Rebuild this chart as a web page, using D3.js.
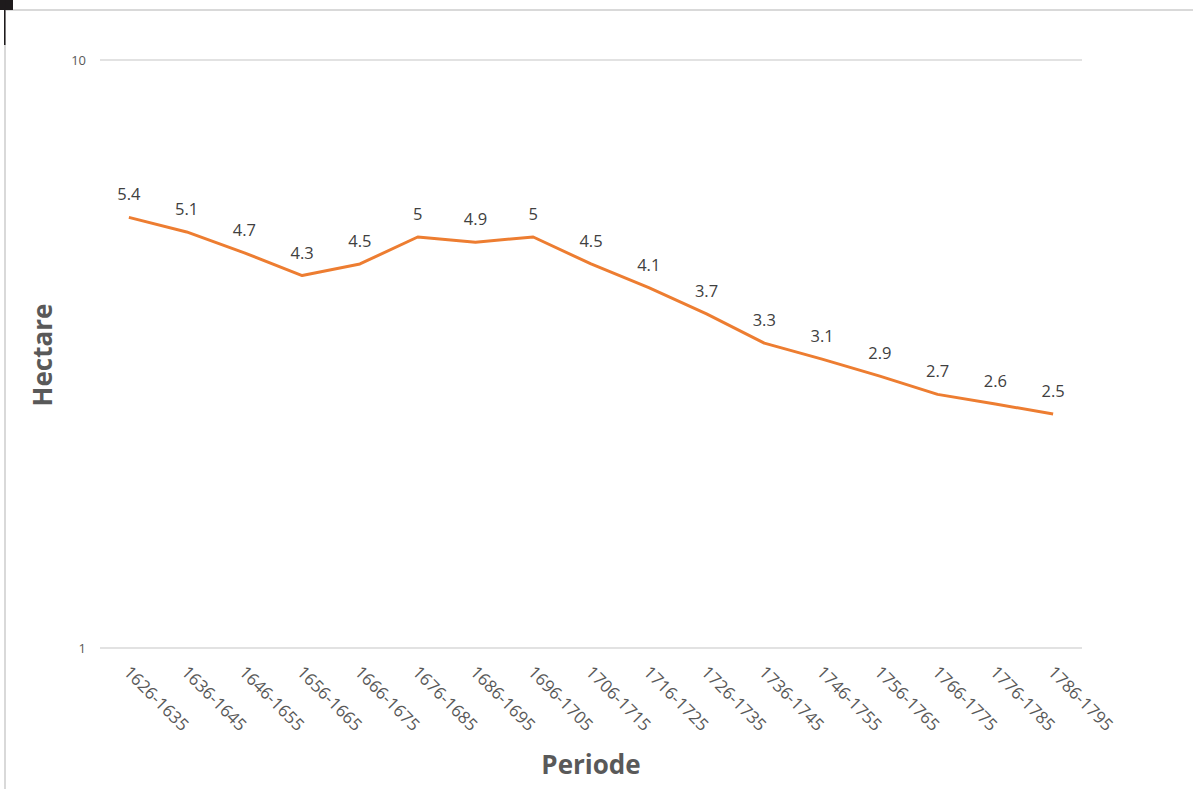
<!DOCTYPE html>
<html><head><meta charset="utf-8">
<script src="https://cdnjs.cloudflare.com/ajax/libs/d3/7.8.5/d3.min.js"></script>
<style>html,body{margin:0;padding:0;background:#fff;}svg{display:block;font-family:"Open Sans",sans-serif;}</style>
</head><body>
<svg id="c" width="1193" height="789"></svg>
<script>
const periods = ["1626-1635","1636-1645","1646-1655","1656-1665","1666-1675","1676-1685","1686-1695","1696-1705","1706-1715","1716-1725","1726-1735","1736-1745","1746-1755","1756-1765","1766-1775","1776-1785","1786-1795"];
const hectare = [5.4,5.1,4.7,4.3,4.5,5,4.9,5,4.5,4.1,3.7,3.3,3.1,2.9,2.7,2.6,2.5];
const yTicks = [1,10];
const yTitle = "Hectare";
const xTitle = "Periode";

const svg = d3.select("#c");
// frame decorations
svg.append("rect").attr("x",5).attr("y",10).attr("width",1200).attr("height",800).attr("fill","none").attr("stroke","#d9d9d9").attr("stroke-width",2);
svg.append("rect").attr("x",0).attr("y",0).attr("width",13).attr("height",10).attr("fill","#1e1b1c");
svg.append("rect").attr("x",4).attr("y",0).attr("width",1.5).attr("height",45).attr("fill","#1e1b1c");

const x = d3.scaleBand().domain(periods).range([100,1082]);
const y = d3.scaleLog().domain([1,10]).range([648,60]);

// gridlines
svg.append("g").selectAll("line").data(yTicks).join("line")
  .attr("x1",100).attr("x2",1082).attr("y1",d=>y(d)).attr("y2",d=>y(d))
  .attr("stroke","#d9d9d9").attr("stroke-width",1.3);

// y tick labels
svg.append("g").selectAll("text").data(yTicks).join("text")
  .attr("x",86).attr("y",d=>y(d)).attr("dy","0.35em").attr("text-anchor","end")
  .attr("font-size",13).attr("fill","#595959").text(d=>d);

// x tick labels
svg.append("g").selectAll("text").data(periods).join("text")
  .attr("transform",d=>`translate(${x(d)+x.bandwidth()/2-2},${669}) rotate(45)`)
  .attr("text-anchor","start").attr("dy","0.35em")
  .attr("font-size",17).attr("fill","#595959").text(d=>d);

// line
const cx = (d,i)=>x(periods[i])+x.bandwidth()/2;
svg.append("path").datum(hectare)
  .attr("d",d3.line().x((d,i)=>cx(d,i)).y(d=>y(d)))
  .attr("fill","none").attr("stroke","#ED7D31").attr("stroke-width",3).attr("stroke-linejoin","round");

// data labels
svg.append("g").selectAll("text").data(hectare).join("text")
  .attr("x",(d,i)=>cx(d,i)).attr("y",d=>y(d)-17)
  .attr("text-anchor","middle").attr("font-size",16.5).attr("fill","#404040").text(d=>d);

// axis titles
svg.append("text").attr("transform","translate(52,355) rotate(-90)").attr("text-anchor","middle")
  .attr("font-size",26).attr("font-weight","bold").attr("fill","#595959").text(yTitle);
svg.append("text").attr("x",591).attr("y",774).attr("text-anchor","middle")
  .attr("font-size",26).attr("font-weight","bold").attr("fill","#595959").text(xTitle);
</script>
</body></html>
